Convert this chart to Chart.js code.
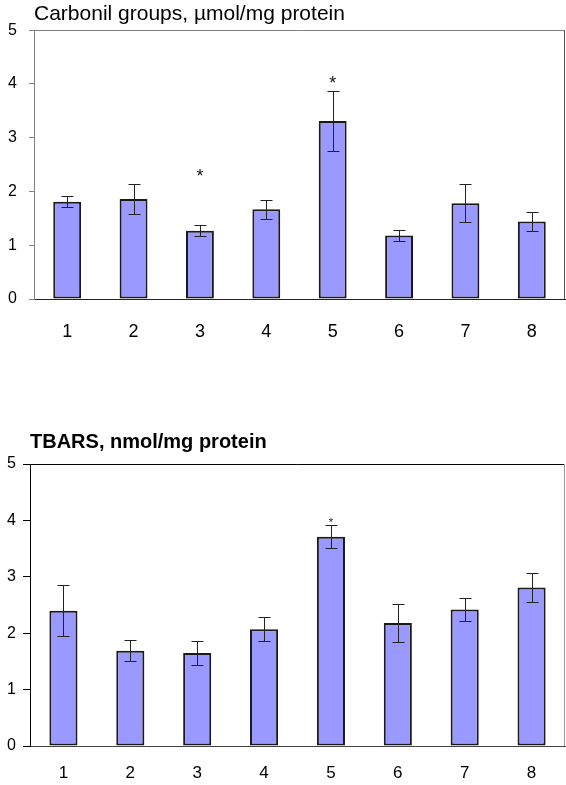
<!DOCTYPE html>
<html>
<head>
<meta charset="utf-8">
<script src="https://cdn.jsdelivr.net/npm/chart.js@4.4.1/dist/chart.umd.min.js"></script>
<style>
  html, body { margin: 0; padding: 0; background: #fff; }
  body { width: 566px; height: 785px; position: relative; overflow: hidden; }
  canvas { position: absolute; left: 0; }
  #chart-carbonil { top: 0; }
  #chart-tbars { top: 430px; }
</style>
</head>
<body>
<canvas id="chart-carbonil" width="566" height="350"></canvas>
<canvas id="chart-tbars" width="566" height="355"></canvas>

<script>
// ── Data ─────────────────────────────────────────────────────
const groups = ['1', '2', '3', '4', '5', '6', '7', '8'];
const yTicks = [0, 1, 2, 3, 4, 5];

const carbonilMean = [1.81, 1.86, 1.27, 1.67, 3.31, 1.18, 1.78, 1.44];
const carbonilErr  = [0.10, 0.27, 0.10, 0.18, 0.56, 0.10, 0.35, 0.17];
const carbonilStar = [null, null, 2.35, null, 4.07, null, null, null];

const tbarsMean = [2.40, 1.69, 1.65, 2.07, 3.71, 2.18, 2.42, 2.81];
const tbarsErr  = [0.45, 0.19, 0.21, 0.21, 0.20, 0.34, 0.21, 0.25];
const tbarsStar = [null, null, null, null, 4.00, null, null, null];

const FONT = '"Liberation Sans", Arial, sans-serif';

// ── Plugins ──────────────────────────────────────────────────
// error bars + significance marks, drawn through the chart scales
const errorBars = {
  id: 'errorBars',
  afterDatasetsDraw(chart, args, opts) {
    const { ctx, scales: { y } } = chart;
    const bars = chart.getDatasetMeta(0).data;
    const mean = chart.data.datasets[0].data;
    ctx.save();
    ctx.strokeStyle = '#222';
    ctx.lineWidth = 1;
    bars.forEach((bar, i) => {
      const x = Math.round(bar.x) + 0.5;
      const hi = Math.round(y.getPixelForValue(mean[i] + opts.err[i])) + 0.5;
      const lo = Math.round(y.getPixelForValue(mean[i] - opts.err[i])) + 0.5;
      ctx.beginPath();
      ctx.moveTo(x, hi); ctx.lineTo(x, lo);
      ctx.moveTo(x - 6, hi); ctx.lineTo(x + 6, hi);
      ctx.moveTo(x - 6, lo); ctx.lineTo(x + 6, lo);
      ctx.stroke();

      if (opts.star[i] != null) {
        ctx.fillStyle = '#111';
        ctx.font = opts.starFont;
        ctx.textAlign = 'center';
        ctx.textBaseline = 'middle';
        ctx.fillText('*', bar.x, y.getPixelForValue(opts.star[i]) + opts.starShift);
      }
    });
    ctx.restore();
  }
};

// top and right edges of the plot frame
const plotFrame = {
  id: 'plotFrame',
  beforeDatasetsDraw(chart, args, opts) {
    const { ctx, chartArea: a } = chart;
    ctx.save();
    ctx.lineWidth = 1;
    ctx.strokeStyle = opts.top;
    ctx.beginPath();
    ctx.moveTo(a.left, Math.round(a.top) + 0.5);
    ctx.lineTo(a.right, Math.round(a.top) + 0.5);
    ctx.stroke();
    ctx.strokeStyle = opts.right;
    ctx.beginPath();
    ctx.moveTo(Math.round(a.right) - 0.5, a.top);
    ctx.lineTo(Math.round(a.right) - 0.5, a.bottom);
    ctx.stroke();
    ctx.restore();
  }
};

// ── Chart factory ────────────────────────────────────────────
function makeChart(id, cfg) {
  return new Chart(document.getElementById(id), {
    type: 'bar',
    data: {
      labels: groups,
      datasets: [{
        data: cfg.mean,
        backgroundColor: '#9999ff',
        borderColor: '#1a1a1a',
        borderWidth: 2,
        borderSkipped: false,
        barPercentage: 0.42,
        categoryPercentage: 1
      }]
    },
    options: {
      responsive: false,
      animation: false,
      layout: { padding: { left: 0, right: 1, top: 0, bottom: 0 } },
      plugins: {
        legend: { display: false },
        tooltip: { enabled: false },
        title: {
          display: true,
          text: cfg.title,
          align: 'start',
          fullSize: false,
          color: '#000',
          font: { family: FONT, size: cfg.titleSize, weight: cfg.titleWeight },
          padding: cfg.titlePad
        },
        errorBars: { err: cfg.err, star: cfg.star, starFont: cfg.starFont, starShift: cfg.starShift },
        plotFrame: cfg.frame
      },
      scales: {
        x: {
          grid: { display: false, drawTicks: false },
          border: { color: cfg.xAxisColor, width: 1 },
          ticks: { color: '#000', padding: cfg.xPad, font: { family: FONT, size: cfg.xSize } },
          afterFit: s => { s.height = cfg.xHeight; }
        },
        y: {
          min: 0, max: 5,
          afterBuildTicks: s => { s.ticks = yTicks.map(v => ({ value: v })); },
          grid: { drawOnChartArea: false, tickLength: cfg.tickLen, color: cfg.yAxisColor },
          border: { color: cfg.yAxisColor, width: 1 },
          ticks: { color: '#000', padding: cfg.yPad, font: { family: FONT, size: 16 } },
          afterFit: s => { s.width = cfg.yWidth; }
        }
      }
    },
    plugins: [errorBars, plotFrame]
  });
}

makeChart('chart-carbonil', {
  title: 'Carbonil groups, \u00b5mol/mg protein',
  titleSize: 21, titleWeight: 'normal',
  titlePad: { top: 2, bottom: 3 },
  mean: carbonilMean, err: carbonilErr, star: carbonilStar,
  starFont: '18px ' + FONT, starShift: 4,
  frame: { top: '#808080', right: '#555' },
  xAxisColor: '#222', yAxisColor: '#808080',
  xPad: 22, xSize: 18, xHeight: 51,
  tickLen: 5, yPad: 12, yWidth: 34
});

makeChart('chart-tbars', {
  title: 'TBARS, nmol/mg protein',
  titleSize: 20, titleWeight: 'bold',
  titlePad: { top: 0, bottom: 10 },
  mean: tbarsMean, err: tbarsErr, star: tbarsStar,
  starFont: '11px ' + FONT, starShift: 3,
  frame: { top: '#000', right: '#999' },
  xAxisColor: '#444', yAxisColor: '#000',
  xPad: 17, xSize: 17, xHeight: 39,
  tickLen: 7, yPad: 7, yWidth: 30
});
</script>
</body>
</html>
